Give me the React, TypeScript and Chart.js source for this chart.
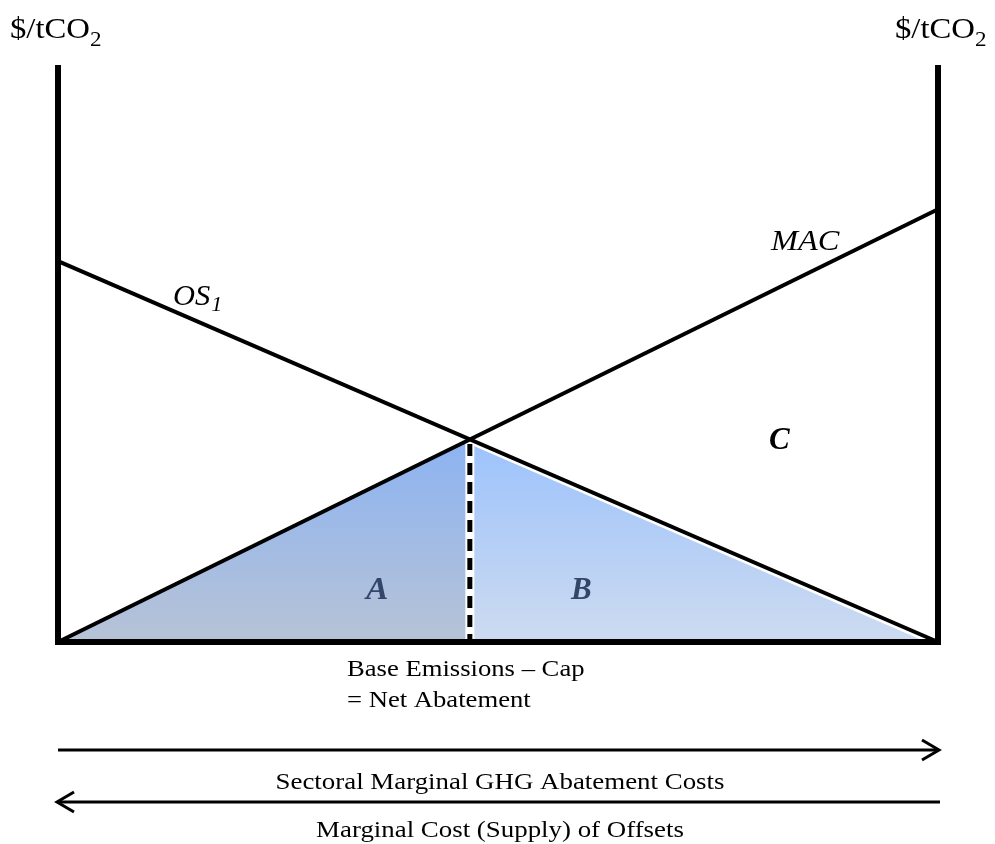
import React, { useEffect, useRef } from "react";
import { Chart, registerables } from "chart.js";
Chart.register(...registerables);

// Conceptual diagram data (x: quantity 0..100, y: $/tCO2 0..100)
const axisX = [0, 100];
const axisY = [0, 100];
const os1X = [0, 100];
const os1Y = [66, 0];
const macX = [0, 100];
const macY = [0, 75];
const netAbatementX = 46.8;
const equilibriumPrice = 35.1;
const unitLabel = ["$/tCO", "2"];
const curveLabels = { os: ["OS", "1"], mac: "MAC" };
const areaLabels = ["A", "B", "C"];
const baseLines = ["Base Emissions \u2013 Cap", "= Net Abatement"];
const arrowLabels = ["Sectoral Marginal GHG Abatement Costs", "Marginal Cost (Supply) of Offsets"];

const SERIF = '"Liberation Serif", "Times New Roman", serif';

function grad(ctx: any, y: any, top: string, bottom: string) {
  const yTop = y.getPixelForValue(equilibriumPrice);
  const yBot = y.getPixelForValue(0);
  const g = ctx.createLinearGradient(0, yTop, 0, yBot);
  g.addColorStop(0, top);
  g.addColorStop(1, bottom);
  return g;
}

// draws text to fit a target width (stretching horizontally); returns drawn width
function txt(ctx: any, s: string, x: number, y: number, font: string, sx: number, align: "left" | "center" = "left") {
  ctx.save();
  ctx.font = font;
  ctx.textAlign = "left";
  const w = ctx.measureText(s).width * sx;
  const left = align === "center" ? x - w / 2 : x;
  ctx.translate(left, y);
  ctx.scale(sx, 1);
  ctx.fillText(s, 0, 0);
  ctx.restore();
  return w;
}

const textPlugin = {
  id: "annot",
  afterDatasetsDraw(chart: any) {
    const { ctx } = chart;
    const x = chart.scales.x;
    const xl = x.getPixelForValue(0);
    const xr = x.getPixelForValue(100);
    ctx.save();
    ctx.fillStyle = "#000";
    ctx.textBaseline = "alphabetic";
    const drawUnit = (lx: number) => {
      const w = txt(ctx, unitLabel[0], lx, 38, `30px ${SERIF}`, 1.09);
      txt(ctx, unitLabel[1], lx + w, 46, `22px ${SERIF}`, 1.05);
    };
    drawUnit(xl - 48);
    drawUnit(xr - 43);
    const wos = txt(ctx, curveLabels.os[0], 173, 305, `italic 29px ${SERIF}`, 1.05);
    txt(ctx, curveLabels.os[1], 173 + wos + 1, 311, `italic 21px ${SERIF}`, 1.05);
    txt(ctx, curveLabels.mac, 771, 250, `italic 30px ${SERIF}`, 1.08);
    txt(ctx, areaLabels[2], 769, 449, `bold italic 31px ${SERIF}`, 1.0);
    ctx.fillStyle = "#34456a";
    txt(ctx, areaLabels[0], 366, 599, `bold italic 31px ${SERIF}`, 1.08);
    txt(ctx, areaLabels[1], 571, 599, `bold italic 31px ${SERIF}`, 1.0);
    ctx.fillStyle = "#000";
    txt(ctx, baseLines[0], 347, 676, `24px ${SERIF}`, 1.11);
    txt(ctx, baseLines[1], 347, 707, `24px ${SERIF}`, 1.11);
    ctx.strokeStyle = "#000";
    ctx.lineWidth = 3;
    ctx.lineCap = "butt";
    const a1 = 750, a2 = 802;
    ctx.beginPath();
    ctx.moveTo(xl, a1);
    ctx.lineTo(xr, a1);
    ctx.stroke();
    ctx.beginPath();
    ctx.moveTo(xr - 16, a1 - 10);
    ctx.lineTo(xr + 1, a1);
    ctx.lineTo(xr - 16, a1 + 10);
    ctx.stroke();
    ctx.beginPath();
    ctx.moveTo(xr + 2, a2);
    ctx.lineTo(xl, a2);
    ctx.stroke();
    ctx.beginPath();
    ctx.moveTo(xl + 16, a2 - 10);
    ctx.lineTo(xl - 1, a2);
    ctx.lineTo(xl + 16, a2 + 10);
    ctx.stroke();
    const cx = (xl + xr) / 2 + 2;
    txt(ctx, arrowLabels[0], cx, 789, `24px ${SERIF}`, 1.12, "center");
    txt(ctx, arrowLabels[1], cx, 837, `24px ${SERIF}`, 1.12, "center");
    ctx.restore();
  },
};

export default function App() {
  const ref = useRef<HTMLCanvasElement>(null);
  useEffect(() => {
    if (!ref.current) return;
    const pts = (xs: number[], ys: number[]) => xs.map((v, i) => ({ x: v, y: ys[i] }));
    const chart = new Chart(ref.current, {
      type: "scatter",
      data: {
        datasets: [
          {
            label: "A",
            data: [
              { x: 0, y: 0 },
              { x: netAbatementX, y: equilibriumPrice },
            ],
            showLine: true,
            borderWidth: 0,
            pointRadius: 0,
            fill: "origin",
            backgroundColor: (c: any) =>
              c.chart.chartArea ? grad(c.chart.ctx, c.chart.scales.y, "#8cb3f2", "#b7c3d6") : "#a0b8e0",
            order: 20,
          },
          {
            label: "B",
            data: [
              { x: netAbatementX, y: equilibriumPrice },
              { x: 100, y: 0 },
            ],
            showLine: true,
            borderWidth: 0,
            pointRadius: 0,
            fill: "origin",
            backgroundColor: (c: any) =>
              c.chart.chartArea ? grad(c.chart.ctx, c.chart.scales.y, "#9cc2fc", "#cddbf0") : "#b0cdf5",
            order: 19,
          },
          {
            label: "gapB",
            data: [
              { x: netAbatementX, y: equilibriumPrice },
              { x: 100, y: 0 },
            ],
            showLine: true,
            borderColor: "#ffffff",
            borderWidth: 9,
            pointRadius: 0,
            order: 15,
          },
          {
            label: "dashWhite",
            data: [
              { x: netAbatementX, y: equilibriumPrice },
              { x: netAbatementX, y: 0 },
            ],
            showLine: true,
            borderColor: "#ffffff",
            borderWidth: 9,
            pointRadius: 0,
            order: 14,
          },
          {
            label: "dash",
            data: [
              { x: netAbatementX, y: equilibriumPrice - 0.8 },
              { x: netAbatementX, y: 0 },
            ],
            showLine: true,
            borderColor: "#000000",
            borderWidth: 5,
            borderDash: [12, 7],
            borderCapStyle: "butt",
            pointRadius: 0,
            order: 13,
          },
          {
            label: "OS1",
            data: pts(os1X, os1Y),
            showLine: true,
            borderColor: "#000",
            borderWidth: 4,
            pointRadius: 0,
            order: 5,
          },
          {
            label: "MAC",
            data: pts(macX, macY),
            showLine: true,
            borderColor: "#000",
            borderWidth: 4,
            pointRadius: 0,
            order: 4,
          },
          {
            label: "leftAxis",
            data: pts([axisX[0], axisX[0]], axisY),
            showLine: true,
            borderColor: "#000",
            borderWidth: 6,
            pointRadius: 0,
            order: 1,
          },
          {
            label: "rightAxis",
            data: pts([axisX[1], axisX[1]], axisY),
            showLine: true,
            borderColor: "#000",
            borderWidth: 6,
            pointRadius: 0,
            order: 1,
          },
          {
            label: "bottomAxis",
            data: pts(axisX, [axisY[0], axisY[0]]),
            showLine: true,
            borderColor: "#000",
            borderWidth: 6,
            borderCapStyle: "square",
            pointRadius: 0,
            order: 0,
          },
        ] as any,
      },
      options: {
        animation: false,
        responsive: false,
        maintainAspectRatio: false,
        layout: { padding: { left: 58, right: 57, top: 65, bottom: 202 } },
        plugins: { legend: { display: false }, tooltip: { enabled: false }, filler: { propagate: false } },
        elements: { line: { tension: 0 } },
        scales: {
          x: { type: "linear", min: 0, max: 100, display: false },
          y: { type: "linear", min: 0, max: 100, display: false },
        },
        clip: false as any,
      } as any,
      plugins: [textPlugin],
    });
    return () => chart.destroy();
  }, []);
  return (
    <div style={{ position: "absolute", left: 0, top: 0, width: 995, height: 844, background: "#fff" }}>
      <canvas ref={ref} width={995} height={844} style={{ width: 995, height: 844 }} />
    </div>
  );
}
